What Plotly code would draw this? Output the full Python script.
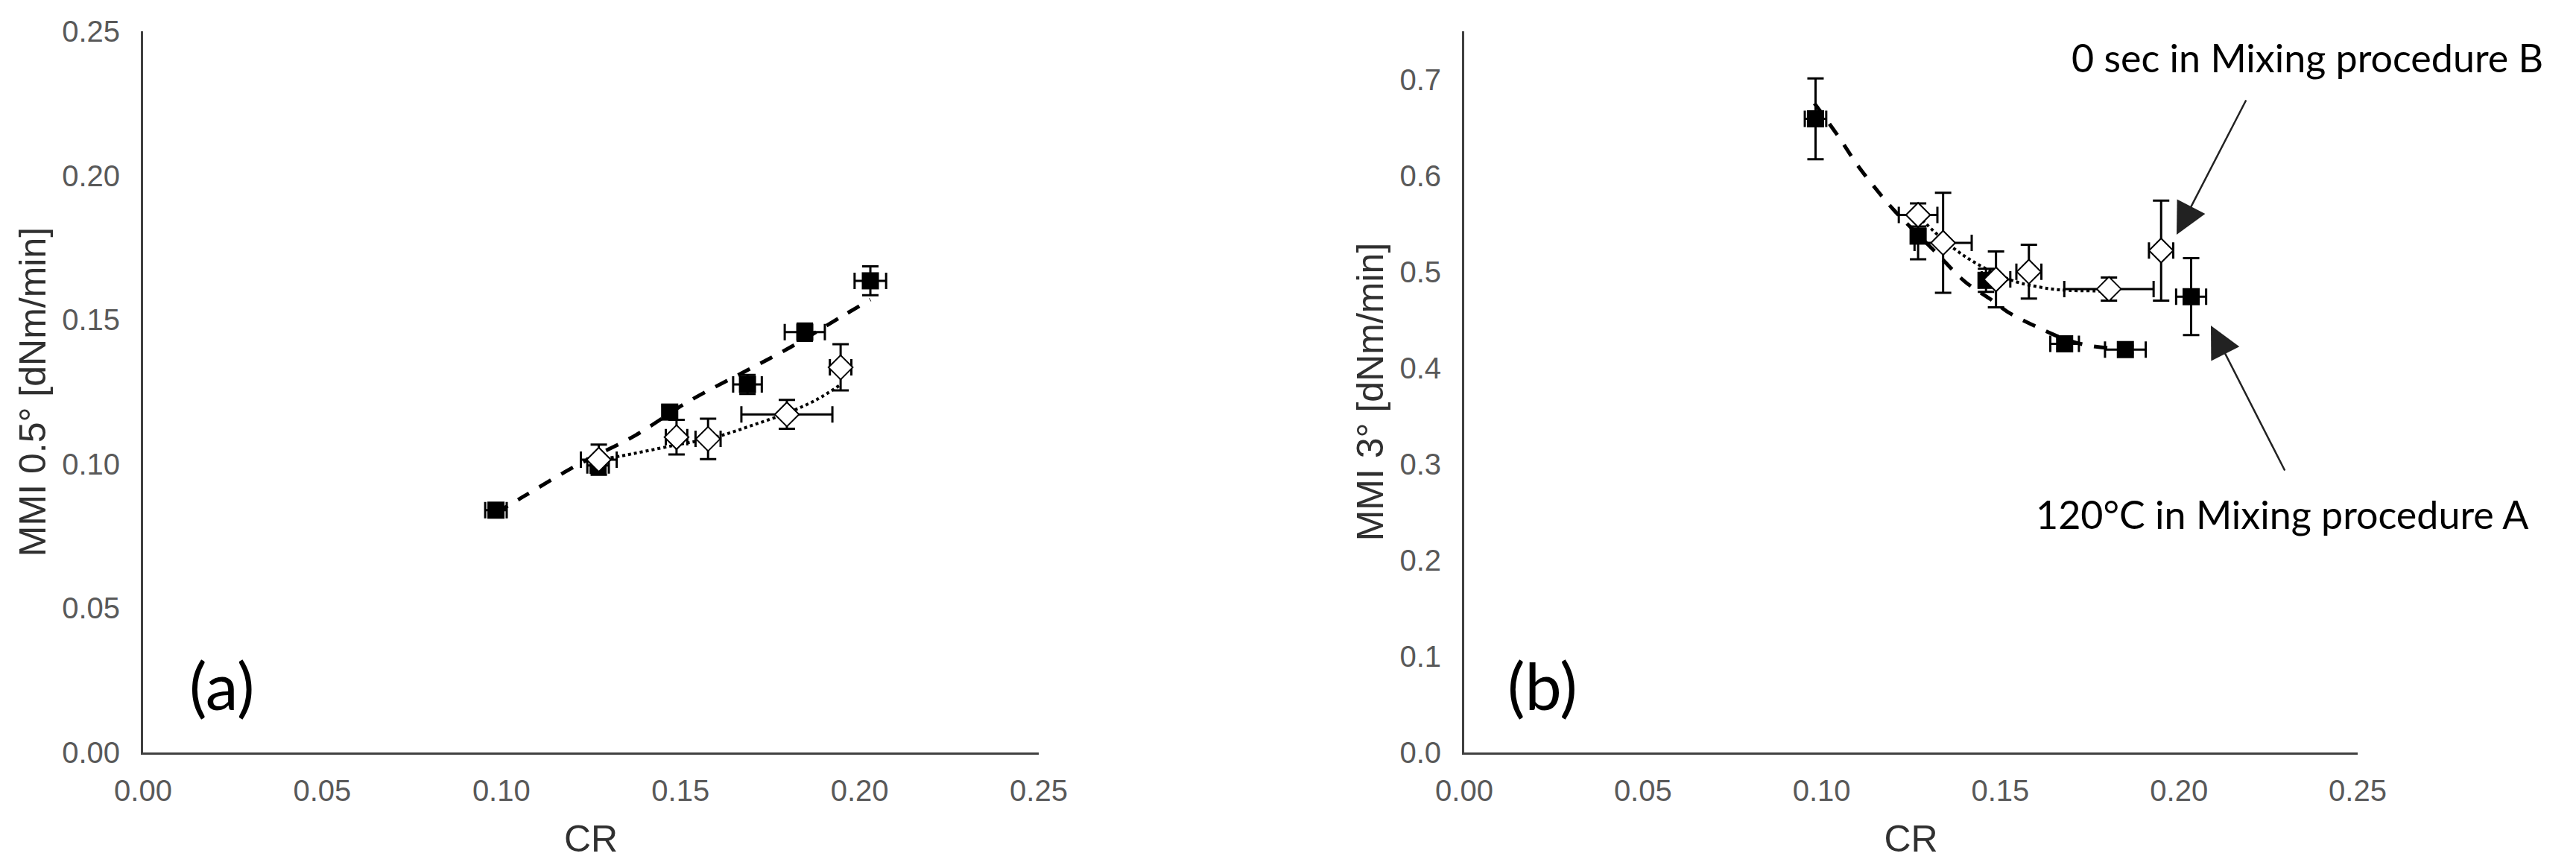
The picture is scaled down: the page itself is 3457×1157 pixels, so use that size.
import plotly.graph_objects as go

# ---- data ----
# panel (a): MMI 0.5 deg vs CR
cr_a_fill = [0.0985, 0.127, 0.147, 0.1687, 0.1847, 0.203]
mmi05_fill = [0.084, 0.0995, 0.118, 0.1276, 0.1457, 0.1635]
cr_a_fill_err = [0.003, 0.003, 0.002, 0.004, 0.0056, 0.0044]
mmi05_fill_err = [0.001, 0.002, 0.002, 0.0033, 0.003, 0.005]

cr_a_open = [0.1272, 0.1489, 0.1577, 0.1797, 0.1947]
mmi05_open = [0.1015, 0.1093, 0.1087, 0.1172, 0.1335]
cr_a_open_err = [0.005, 0.003, 0.0035, 0.0127, 0.003]
mmi05_open_err = [0.0052, 0.006, 0.007, 0.005, 0.008]

# trend lines as drawn in the figure
trend_a_fill_x = [0.0985, 0.106, 0.121, 0.1375, 0.1524, 0.1688, 0.1807, 0.1955, 0.203]
trend_a_fill_y = [0.083, 0.0886, 0.0995, 0.110, 0.1218, 0.1326, 0.1405, 0.1515, 0.157]
trend_a_open_x = [0.1272, 0.133, 0.148, 0.160, 0.170, 0.180, 0.188, 0.1947]
trend_a_open_y = [0.1015, 0.1027, 0.1064, 0.1094, 0.1134, 0.1178, 0.1223, 0.1275]

# panel (b): MMI 3 deg vs CR
cr_b_fill = [0.0983, 0.127, 0.146, 0.168, 0.185, 0.2034]
mmi3_fill = [0.659, 0.537, 0.491, 0.425, 0.419, 0.474]
cr_b_fill_err = [0.003, 0.002, 0.002, 0.004, 0.0057, 0.0042]
mmi3_fill_err = [0.042, 0.024, 0.012, 0.005, 0.004, 0.040]

cr_b_open = [0.127, 0.134, 0.1488, 0.158, 0.1804, 0.195]
mmi3_open = [0.559, 0.530, 0.492, 0.500, 0.482, 0.522]
cr_b_open_err = [0.0054, 0.008, 0.004, 0.0035, 0.0125, 0.0034]
mmi3_open_err = [0.012, 0.052, 0.029, 0.028, 0.012, 0.052]

trend_b_fill_x = [0.098, 0.105, 0.110, 0.115, 0.120, 0.132, 0.140, 0.147, 0.153, 0.160, 0.168, 0.175, 0.1855]
trend_b_fill_y = [0.675, 0.639, 0.611, 0.587, 0.565, 0.520, 0.490, 0.472, 0.456, 0.443, 0.430, 0.423, 0.419]
trend_b_open_x = [0.127, 0.136, 0.145, 0.154, 0.161, 0.167, 0.180]
trend_b_open_y = [0.558, 0.527, 0.505, 0.490, 0.484, 0.481, 0.480]

W, H = 3457, 1157
TICK_FONT = dict(family="Liberation Sans, Arial", size=40, color="#595959")
TITLE_FONT = dict(family="Liberation Sans, Arial", size=50, color="#303030")
NOTE_FONT = "Lato, Open Sans, sans-serif"


def err(vals):
    return dict(type="data", array=vals, color="black", thickness=3, width=11)


def add_panel(fig, xa, ya, trend_f, trend_o, fill, opn):
    fig.add_trace(go.Scatter(x=trend_f[0], y=trend_f[1], mode="lines", line_shape="spline",
                             line=dict(color="black", width=5, dash="18px,16px"),
                             xaxis=xa, yaxis=ya, hoverinfo="skip"))
    fig.add_trace(go.Scatter(x=trend_o[0], y=trend_o[1], mode="lines", line_shape="spline",
                             line=dict(color="black", width=4, dash="4px,4px"),
                             xaxis=xa, yaxis=ya, hoverinfo="skip"))
    fig.add_trace(go.Scatter(x=fill[0], y=fill[1], mode="markers",
                             marker=dict(symbol="square", size=23, color="black"),
                             error_x=err(fill[2]), error_y=err(fill[3]),
                             xaxis=xa, yaxis=ya, name="Mixing procedure A"))
    fig.add_trace(go.Scatter(x=opn[0], y=opn[1], mode="markers",
                             marker=dict(symbol="diamond", size=25, color="white",
                                         line=dict(color="black", width=2)),
                             error_x=err(opn[2]), error_y=err(opn[3]),
                             xaxis=xa, yaxis=ya, name="Mixing procedure B"))


fig = go.Figure()
add_panel(fig, "x", "y",
          (trend_a_fill_x, trend_a_fill_y), (trend_a_open_x, trend_a_open_y),
          (cr_a_fill, mmi05_fill, cr_a_fill_err, mmi05_fill_err),
          (cr_a_open, mmi05_open, cr_a_open_err, mmi05_open_err))
add_panel(fig, "x2", "y2",
          (trend_b_fill_x, trend_b_fill_y), (trend_b_open_x, trend_b_open_y),
          (cr_b_fill, mmi3_fill, cr_b_fill_err, mmi3_fill_err),
          (cr_b_open, mmi3_open, cr_b_open_err, mmi3_open_err))

axis_common = dict(showgrid=False, zeroline=False, showline=True, linewidth=3,
                   linecolor="#404040", ticks="", tickfont=TICK_FONT,
                   title_font=TITLE_FONT, automargin=False)

x_dom_a = [192 / W, 1394 / W]
x_dom_b = [1965 / W, 3164 / W]
y_dom = [1 - 1010 / H, 1 - 42 / H]

fig.update_layout(
    width=W, height=H,
    paper_bgcolor="white", plot_bgcolor="white",
    margin=dict(l=0, r=0, t=0, b=0),
    showlegend=False,
    xaxis=dict(axis_common, domain=x_dom_a, anchor="y", range=[0, 0.25], dtick=0.05,
               tickformat=".2f", ticklabelstandoff=14, title=dict(text="CR", standoff=26)),
    yaxis=dict(axis_common, domain=y_dom, anchor="x", range=[0, 0.25], dtick=0.05,
               tickformat=".2f", ticklabelstandoff=20,
               title=dict(text="MMI 0.5° [dNm/min]", standoff=6)),
    xaxis2=dict(axis_common, domain=x_dom_b, anchor="y2", range=[0, 0.25], dtick=0.05,
                tickformat=".2f", ticklabelstandoff=14, title=dict(text="CR", standoff=26)),
    yaxis2=dict(axis_common, domain=y_dom, anchor="x2", range=[0, 0.75],
                tickvals=[0, 0.1, 0.2, 0.3, 0.4, 0.5, 0.6, 0.7], tickformat=".1f",
                ticklabelstandoff=20, title=dict(text="MMI 3° [dNm/min]", standoff=6)),
)

notes = [
    dict(text="(a)", x=298 / W, y=1 - 919 / H, size=88),
    dict(text="(b)", x=2070 / W, y=1 - 919 / H, size=88),
    dict(text="0 sec in Mixing procedure B", x=3096 / W, y=1 - 77 / H, size=52),
    dict(text="120°C in Mixing procedure A", x=3063 / W, y=1 - 690 / H, size=52),
]
for n in notes:
    fig.add_annotation(text=n["text"], x=n["x"], y=n["y"], xref="paper", yref="paper",
                       xanchor="center", yanchor="middle", showarrow=False,
                       font=dict(family=NOTE_FONT, size=n["size"], color="black"))

# arrows pointing at the two outlier points in panel (b)
for tip, tail in [((2921, 315), (3015, 133)), ((2967, 437), (3067, 633))]:
    fig.add_annotation(text="", x=tip[0] / W, y=1 - tip[1] / H, xref="paper", yref="paper",
                       ax=tail[0] - tip[0], ay=tail[1] - tip[1], showarrow=True,
                       arrowhead=2, arrowsize=3.4, arrowwidth=2.5, arrowcolor="#222222")

# drop the default page margin so the figure sits at the window corner
fig.write_html("out.html", config={"displayModeBar": False},
               post_script="document.body.style.margin='0';")
